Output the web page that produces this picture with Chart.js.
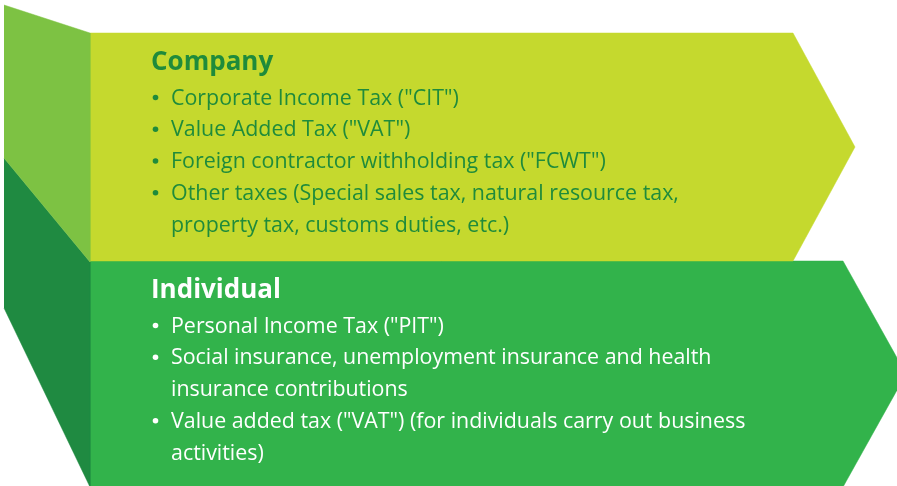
<!DOCTYPE html>
<html>
<head>
<meta charset="utf-8">
<script src="https://cdn.jsdelivr.net/npm/chart.js@4/dist/chart.umd.min.js"></script>
<style>
    html, body { margin: 0; padding: 0; background: #ffffff; }
    #box { position: relative; width: 897px; height: 486px; }
</style>
</head>
<body>
<div id="box"><canvas id="taxChart"></canvas></div>
<script>
// Panel outlines, in diagram units (x 0..897, y 0..486 from top)
const sideTop = [[4, 5], [90, 33], [90, 262], [4, 158]];
const sideBottom = [[4, 158], [90, 262], [90, 487], [4, 308]];
const companyPanel = [[90, 33], [793, 33], [855, 147], [793, 261], [90, 261]];
const individualPanel = [[90, 261], [843, 261], [906, 374], [843, 487], [90, 487]];

const panelColors = ['#7dc243', '#1f8a41', '#c5d92e', '#32b34b'];

// Text content: each bullet is a list of wrapped lines
const companyTitle = 'Company';
const companyItems = [
    ['Corporate Income Tax ("CIT")'],
    ['Value Added Tax ("VAT")'],
    ['Foreign contractor withholding tax ("FCWT")'],
    ['Other taxes (Special sales tax, natural resource tax,', 'property tax, customs duties, etc.)']
];
const individualTitle = 'Individual';
const individualItems = [
    ['Personal Income Tax ("PIT")'],
    ['Social insurance, unemployment insurance and health', 'insurance contributions'],
    ['Value added tax ("VAT") (for individuals carry out business', 'activities)']
];

function toPoints(poly) {
    return poly.map(p => ({ x: p[0], y: p[1] }));
}

const shapes = [sideTop, sideBottom, companyPanel, individualPanel];

// Draw the title + bullet list for one panel
function drawBlock(ctx, xs, ys, title, items, top, color) {
    const left = xs.getPixelForValue(151);
    const textX = xs.getPixelForValue(171);
    const dotX = xs.getPixelForValue(155.5);
    ctx.fillStyle = color;
    ctx.textAlign = 'left';
    ctx.textBaseline = 'alphabetic';
    ctx.font = 'bold 26px "Open Sans"';
    ctx.fillText(title, left, ys.getPixelForValue(top));

    ctx.font = '21.4px "Open Sans"';
    let line = 0;
    items.forEach(item => {
        item.forEach((txt, i) => {
            const y = ys.getPixelForValue(top + 34.5 + line * 31.75);
            if (i === 0) {
                ctx.beginPath();
                ctx.arc(dotX, y - 7, 2.8, 0, Math.PI * 2);
                ctx.fill();
            }
            ctx.fillText(txt, textX, y);
            line++;
        });
    });
}

const textPlugin = {
    id: 'panelText',
    afterDatasetsDraw(chart) {
        const ctx = chart.ctx;
        const xs = chart.scales.x;
        const ys = chart.scales.y;
        ctx.save();
        drawBlock(ctx, xs, ys, companyTitle, companyItems, 70, '#1f8b3b');
        drawBlock(ctx, xs, ys, individualTitle, individualItems, 298, '#ffffff');
        ctx.restore();
    }
};

document.fonts.load('21px "Open Sans"').then(() => document.fonts.load('bold 26px "Open Sans"')).then(() => {
    const ctx = document.getElementById('taxChart').getContext('2d');
    new Chart(ctx, {
        type: 'line',
        data: {
            datasets: shapes.map((poly, i) => ({
                data: toPoints(poly),
                backgroundColor: panelColors[i],
                borderColor: panelColors[i],
                borderWidth: 0.5,
                pointRadius: 0,
                tension: 0,
                fill: 'shape'
            }))
        },
        options: {
            responsive: true,
            maintainAspectRatio: false,
            animation: false,
            layout: { padding: 0 },
            plugins: {
                legend: { display: false },
                tooltip: { enabled: false }
            },
            scales: {
                x: { type: 'linear', min: 0, max: 897, display: false },
                y: { type: 'linear', min: 0, max: 486, reverse: true, display: false }
            }
        },
        plugins: [textPlugin]
    });
});
</script>
</body>
</html>
